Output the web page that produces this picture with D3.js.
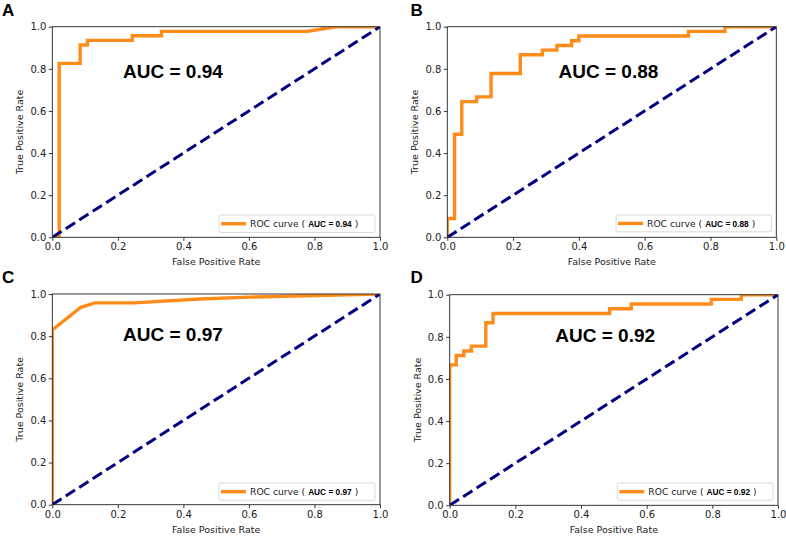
<!DOCTYPE html>
<html><head><meta charset="utf-8">
<script src="https://cdn.jsdelivr.net/npm/d3@7"></script>
<style>
html,body{margin:0;padding:0;background:#fff;}
svg{display:block;}
text{font-family:"DejaVu Sans",sans-serif;}
</style></head>
<body>
<svg id="chart" width="786" height="536"></svg>
<script>
// ---------- data ----------
const panelLabels = ["A", "B", "C", "D"];
const aucValues = ["0.94", "0.88", "0.97", "0.92"];
const tickValues = [0, 0.2, 0.4, 0.6, 0.8, 1.0];
const chanceFpr = [0, 1];
const chanceTpr = [0, 1];

const fprA = [0, 0.021, 0.021, 0.085, 0.085, 0.107, 0.107, 0.244, 0.244, 0.333, 0.333, 0.778, 0.867, 1.0];
const tprA = [0, 0, 0.826, 0.826, 0.913, 0.913, 0.935, 0.935, 0.957, 0.957, 0.978, 0.978, 1.0, 1.0];

const fprB = [0, 0, 0.022, 0.022, 0.044, 0.044, 0.089, 0.089, 0.133, 0.133, 0.222, 0.222, 0.289, 0.289, 0.333, 0.333, 0.378, 0.378, 0.4, 0.4, 0.733, 0.733, 0.844, 0.844, 1.0];
const tprB = [0, 0.089, 0.089, 0.489, 0.489, 0.644, 0.644, 0.667, 0.667, 0.778, 0.778, 0.867, 0.867, 0.889, 0.889, 0.911, 0.911, 0.933, 0.933, 0.956, 0.956, 0.978, 0.978, 1.0, 1.0];

const fprC = [0, 0, 0.087, 0.13, 0.25, 0.45, 0.6, 1.0];
const tprC = [0, 0.83, 0.937, 0.958, 0.958, 0.976, 0.985, 1.0];

const fprD = [0, 0, 0.02, 0.02, 0.043, 0.043, 0.066, 0.066, 0.11, 0.11, 0.132, 0.132, 0.487, 0.487, 0.553, 0.553, 0.797, 0.797, 0.888, 0.888, 1.0];
const tprD = [0, 0.667, 0.667, 0.711, 0.711, 0.733, 0.733, 0.756, 0.756, 0.867, 0.867, 0.911, 0.911, 0.933, 0.933, 0.956, 0.956, 0.978, 0.978, 1.0, 1.0];

const fprs = [fprA, fprB, fprC, fprD];
const tprs = [tprA, tprB, tprC, tprD];

// ---------- layout ----------
const panels = [
  {x0: 52.3, x1: 380, y0: 237.3, y1: 26.7, lx: 2, ly: 15.5, aucX: 123, aucY: 77.5, legX0: 219, legX1: 375, legY0: 215, legY1: 232.5},
  {x0: 447.3, x1: 776.3, y0: 237.3, y1: 26.7, lx: 410.5, ly: 15.5, aucX: 558.5, aucY: 77.5, legX0: 616, legX1: 771.5, legY0: 215, legY1: 231.8},
  {x0: 52.3, x1: 380, y0: 504.7, y1: 294, lx: 2, ly: 283, aucX: 123, aucY: 340.8, legX0: 219, legX1: 375, legY0: 483, legY1: 500.3},
  {x0: 449.7, x1: 778, y0: 505.3, y1: 294.7, lx: 410.5, ly: 283, aucX: 555.3, aucY: 341.5, legX0: 617.3, legX1: 773, legY0: 483, legY1: 500.3}
];

const ORANGE = "#ff8c1a";
const NAVY = "#000080";
const svg = d3.select("#chart");

panels.forEach((p, i) => {
  const x = d3.scaleLinear().domain([0, 1]).range([p.x0, p.x1]);
  const y = d3.scaleLinear().domain([0, 1]).range([p.y0, p.y1]);
  const g = svg.append("g");

  // panel letter
  g.append("text").attr("x", p.lx).attr("y", p.ly)
    .style("font-family", "'Liberation Sans', Arial, sans-serif")
    .style("font-weight", "bold").style("font-size", "17px").attr("fill", "#000")
    .text(panelLabels[i]);

  // clip to the axes box
  const cid = "clip" + i;
  g.append("clipPath").attr("id", cid).append("rect")
    .attr("x", p.x0).attr("y", p.y1).attr("width", p.x1 - p.x0).attr("height", p.y0 - p.y1);

  // ROC curve
  const pts = fprs[i].map((f, k) => [f, tprs[i][k]]);
  const line = d3.line().x(d => x(d[0])).y(d => y(d[1]));
  g.append("path").datum(pts).attr("d", line)
    .attr("fill", "none").attr("stroke", ORANGE).attr("stroke-width", 3.4)
    .attr("stroke-linejoin", "miter").attr("clip-path", `url(#${cid})`);

  // chance line
  const cpts = chanceFpr.map((f, k) => [f, chanceTpr[k]]);
  g.append("path").datum(cpts).attr("d", line)
    .attr("fill", "none").attr("stroke", NAVY).attr("stroke-width", 3)
    .attr("stroke-dasharray", "11,5").attr("clip-path", `url(#${cid})`);

  // axes
  const fmt = d3.format(".1f");
  const xAxis = d3.axisBottom(x).tickValues(tickValues).tickFormat(fmt).tickSize(3.5).tickPadding(2.5);
  const yAxis = d3.axisLeft(y).tickValues(tickValues).tickFormat(fmt).tickSize(3.5).tickPadding(2.5);
  const gx = g.append("g").attr("transform", `translate(0,${p.y0})`).call(xAxis);
  const gy = g.append("g").attr("transform", `translate(${p.x0},0)`).call(yAxis);
  [gx, gy].forEach(a => {
    a.select(".domain").remove();
    a.selectAll("line").attr("stroke", "#222").attr("stroke-width", 0.9);
    a.selectAll("text").style("font-family", "'DejaVu Sans', sans-serif").style("font-size", "10px").attr("fill", "#222");
  });

  // frame
  g.append("rect").attr("x", p.x0).attr("y", p.y1).attr("width", p.x1 - p.x0).attr("height", p.y0 - p.y1)
    .attr("fill", "none").attr("stroke", "#222").attr("stroke-width", 0.9);

  // axis labels
  g.append("text").attr("x", (p.x0 + p.x1) / 2).attr("y", p.y0 + 28)
    .attr("text-anchor", "middle").style("font-size", "9.5px").attr("fill", "#222")
    .text("False Positive Rate");
  g.append("text").attr("transform", `translate(${p.x0 - 29},${(p.y0 + p.y1) / 2}) rotate(-90)`)
    .attr("text-anchor", "middle").style("font-size", "9.5px").attr("fill", "#222")
    .text("True Positive Rate");

  // big AUC text
  g.append("text").attr("x", p.aucX).attr("y", p.aucY)
    .style("font-family", "'Liberation Sans', Arial, sans-serif")
    .style("font-weight", "bold").style("font-size", "19px").attr("fill", "#000")
    .text("AUC = " + aucValues[i]);

  // legend
  const lg = g.append("g");
  lg.append("rect").attr("x", p.legX0).attr("y", p.legY0).attr("width", p.legX1 - p.legX0).attr("height", p.legY1 - p.legY0)
    .attr("rx", 2).attr("fill", "#fff").attr("fill-opacity", 0.85).attr("stroke", "#d6d6d6").attr("stroke-width", 0.9);
  const my = (p.legY0 + p.legY1) / 2;
  lg.append("line").attr("x1", p.legX0 + 2).attr("x2", p.legX0 + 27).attr("y1", my).attr("y2", my)
    .attr("stroke", ORANGE).attr("stroke-width", 3.4);
  const t = lg.append("text").attr("x", p.legX0 + 31).attr("y", my + 3.3).attr("fill", "#222").style("font-size", "9.2px");
  t.append("tspan").text("ROC curve ( ");
  t.append("tspan").style("font-family", "'Liberation Sans', Arial, sans-serif").style("font-weight", "bold")
    .style("font-size", "8.3px").attr("fill", "#000").text("AUC = " + aucValues[i]);
  t.append("tspan").text(" )");
});
</script>
</body></html>
